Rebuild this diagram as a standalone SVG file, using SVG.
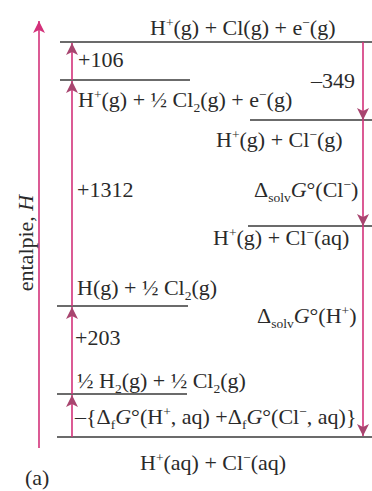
<svg xmlns="http://www.w3.org/2000/svg" width="372" height="491" viewBox="0 0 372 491">
<style>
.t{font-family:"Liberation Serif","Times New Roman",serif;font-size:22px;fill:#2a2a2a}
.sup{font-size:13.5px;baseline-shift:8px}
.sub{font-size:13.5px;baseline-shift:-5px}
.i{font-style:italic}
.lvl{stroke:#3a3a3a;stroke-width:1.4;fill:none}
.arr{stroke:#d3317a;stroke-width:1.6;fill:none}
</style>
<defs>
<marker id="ah" markerUnits="userSpaceOnUse" markerWidth="12" markerHeight="12" refX="10" refY="5" orient="auto" viewBox="0 0 10 10">
<path d="M0,0 L10,5 L0,10 L2.5,5 z" fill="#a8456f"/>
</marker>
<marker id="ahp" markerUnits="userSpaceOnUse" markerWidth="12" markerHeight="12" refX="10" refY="5" orient="auto" viewBox="0 0 10 10">
<path d="M0,0 L10,5 L0,10 L2.5,5 z" fill="#d3317a"/>
</marker>
</defs>
<rect width="372" height="491" fill="#ffffff"/>
<g id="levels">
<line class="lvl" x1="60" y1="42" x2="372" y2="42"/>
<line class="lvl" x1="60" y1="80" x2="190" y2="80"/>
<line class="lvl" x1="250" y1="120" x2="372" y2="120"/>
<line class="lvl" x1="248" y1="226" x2="372" y2="226"/>
<line class="lvl" x1="57" y1="306" x2="188" y2="306"/>
<line class="lvl" x1="57" y1="394" x2="187" y2="394"/>
<line class="lvl" x1="57" y1="437" x2="372" y2="437"/>
</g>
<g id="connectors">
<line class="arr" x1="39" y1="448" x2="39" y2="21" marker-end="url(#ahp)"/>
<line class="arr" x1="72" y1="80" x2="72" y2="43" marker-end="url(#ah)"/>
<line class="arr" x1="72" y1="306" x2="72" y2="81" marker-end="url(#ah)"/>
<line class="arr" x1="72" y1="394" x2="72" y2="307" marker-end="url(#ah)"/>
<line class="arr" x1="72" y1="437" x2="72" y2="395" marker-end="url(#ah)"/>
<line class="arr" x1="363" y1="42" x2="363" y2="120" marker-end="url(#ah)"/>
<line class="arr" x1="363" y1="120" x2="363" y2="226" marker-end="url(#ah)"/>
<line class="arr" x1="363" y1="226" x2="363" y2="436" marker-end="url(#ah)"/>
</g>
<g id="n1"><text class="t" x="150" y="35">H<tspan class="sup">+</tspan>(g) + Cl(g) + e<tspan class="sup">−</tspan>(g)</text></g>
<g id="n2"><text class="t" x="78" y="67">+106</text></g>
<g id="n3"><text class="t" x="78" y="107">H<tspan class="sup">+</tspan>(g) + ½ Cl<tspan class="sub">2</tspan>(g) + e<tspan class="sup">−</tspan>(g)</text></g>
<g id="n4"><text class="t" x="311" y="88">–349</text></g>
<g id="n5"><text class="t" x="216" y="147">H<tspan class="sup">+</tspan>(g) + Cl<tspan class="sup">−</tspan>(g)</text></g>
<g id="n6"><text class="t" x="77" y="197">+1312</text></g>
<g id="n7"><text class="t" x="254" y="197">Δ<tspan class="sub">solv</tspan><tspan class="i">G</tspan>°(Cl<tspan class="sup">−</tspan>)</text></g>
<g id="n8"><text class="t" x="213" y="245">H<tspan class="sup">+</tspan>(g) + Cl<tspan class="sup">−</tspan>(aq)</text></g>
<g id="n9"><text class="t" x="77" y="295">H(g) + ½ Cl<tspan class="sub">2</tspan>(g)</text></g>
<g id="n10"><text class="t" x="257" y="323">Δ<tspan class="sub">solv</tspan><tspan class="i">G</tspan>°(H<tspan class="sup">+</tspan>)</text></g>
<g id="n11"><text class="t" x="75" y="345">+203</text></g>
<g id="n12"><text class="t" x="77" y="388">½ H<tspan class="sub">2</tspan>(g) + ½ Cl<tspan class="sub">2</tspan>(g)</text></g>
<g id="n13"><text class="t" x="75" y="424">–{Δ<tspan class="sub">f</tspan><tspan class="i">G</tspan>°(H<tspan class="sup">+</tspan>, aq) +Δ<tspan class="sub">f</tspan><tspan class="i">G</tspan>°(Cl<tspan class="sup">−</tspan>, aq)}</text></g>
<g id="n14"><text class="t" x="140" y="470">H<tspan class="sup">+</tspan>(aq) + Cl<tspan class="sup">−</tspan>(aq)</text></g>
<g id="n15"><text class="t" x="25" y="485">(a)</text></g>
<g id="n16"><text class="t" transform="translate(33,243) rotate(-90)" text-anchor="middle">entalpie, <tspan class="i">H</tspan></text></g>
</svg>
